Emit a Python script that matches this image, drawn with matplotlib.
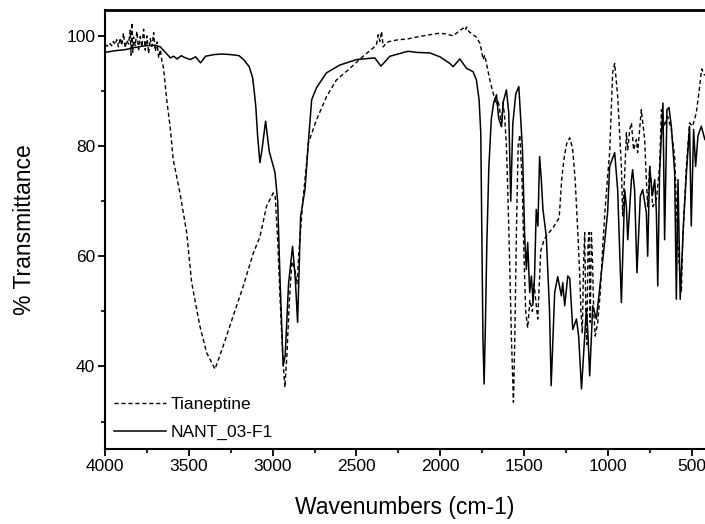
import matplotlib
matplotlib.use("Agg")
import matplotlib.pyplot as plt
from matplotlib.ticker import MultipleLocator

plt.rcParams['font.family'] = ['Liberation Sans', 'DejaVu Sans']

# ---------------- data ----------------
tian_wn = [4000, 3990, 3980, 3970, 3960, 3950, 3940, 3930, 3920, 3910, 3900, 3890, 3880,
           3870, 3860, 3850, 3845, 3840, 3835, 3830, 3820, 3810, 3800, 3790, 3780, 3770,
           3760, 3750, 3740, 3730, 3720, 3710, 3700, 3690, 3680, 3670, 3660,
           3652, 3632, 3612, 3593, 3553, 3513, 3483, 3434, 3394, 3344, 3295, 3235, 3175,
           3116, 3076, 3036, 2996, 2985, 2970, 2955, 2940, 2927, 2915, 2900, 2885, 2870,
           2855, 2840, 2820, 2800, 2787, 2738, 2678, 2619, 2539, 2460, 2400, 2380, 2370,
           2360, 2350, 2340, 2320, 2300, 2250, 2201, 2122, 2060, 2002, 1960, 1923, 1890,
           1863, 1850, 1843, 1830, 1804, 1785, 1764, 1755, 1744, 1735, 1724, 1704, 1684,
           1665, 1655, 1645, 1635, 1625, 1615, 1605, 1595, 1585, 1575, 1563, 1555, 1545,
           1535, 1525, 1512, 1500, 1490, 1478, 1465, 1450, 1440, 1430, 1418, 1400, 1380,
           1360, 1330, 1310, 1290, 1275, 1260, 1245, 1227, 1210, 1195, 1180, 1168, 1160,
           1152, 1145, 1138, 1131, 1125, 1118, 1112, 1105, 1098, 1092, 1084, 1075, 1060,
           1045, 1030, 1015, 1001, 989, 971, 959, 941, 919, 911, 899, 889, 881, 869, 859,
           846, 829, 822, 800, 780, 770, 762, 750, 740, 732, 710, 691, 680, 661, 643, 621,
           601, 583, 571, 561, 553, 531, 512, 494, 472, 452, 440, 422]
tian_t = [98.0, 98.3, 98.1, 98.6, 98.2, 99.0, 98.4, 99.3, 98.0, 99.6, 98.3, 100.5, 97.8,
          99.2, 98.5, 101.0, 96.5, 102.4, 97.0, 99.8, 98.2, 100.8, 97.5, 99.9, 98.0, 101.2,
          97.4, 100.0, 96.8, 99.5, 98.1, 100.6, 97.2, 98.9, 96.0, 97.5, 95.3,
          94.4, 88.4, 83.6, 77.5, 71.5, 64.3, 55.2, 47.3, 42.5, 39.5, 43.7, 49.2, 54.6,
          60.5, 63.5, 69.1, 71.5, 71.0, 63.0, 52.0, 42.0, 36.2, 42.0, 52.0, 59.0, 58.0,
          55.0, 62.0, 70.0, 76.0, 80.5, 84.8, 89.0, 92.0, 94.1, 96.3, 97.8, 98.5, 100.2,
          99.0, 100.8, 98.0, 98.8, 99.0, 99.3, 99.4, 99.9, 100.2, 100.5, 100.3, 100.0, 100.8,
          101.4, 101.0, 101.6, 100.8, 100.2, 99.8, 98.7, 97.5, 95.7, 96.5, 95.0, 92.0, 89.6,
          87.5, 88.4, 86.5, 83.6, 88.0, 85.0, 80.0, 70.0, 58.0, 45.0, 33.5, 45.0, 65.0,
          80.0, 82.0, 74.0, 60.0, 50.0, 47.0, 52.0, 50.0, 55.0, 52.0, 48.6, 61.0, 63.0,
          64.0, 65.0, 66.0, 67.0, 74.0, 78.0, 80.5, 81.5, 79.5, 74.0, 65.0, 57.0, 50.0,
          46.0, 58.0, 64.3, 50.0, 44.0, 62.0, 64.3, 48.0, 64.3, 60.0, 50.0, 45.5, 48.0,
          53.4, 62.0, 69.0, 74.5, 78.8, 93.3, 95.0, 89.0, 76.3, 67.3, 75.1, 82.4, 79.3, 83.0, 84.2,
          79.3, 81.2, 78.8, 86.6, 81.2, 73.9, 69.0, 76.3, 72.7, 69.0, 70.3, 76.3, 86.6, 83.6, 85.4, 83.0,
          78.1, 63.0, 57.0, 53.4, 63.0, 76.3, 84.2, 83.6, 86.0, 90.8, 94.0, 92.8]

nant_wn = [4000, 3940, 3880, 3820, 3760, 3700, 3670, 3640, 3610, 3590, 3570, 3545, 3520,
           3490, 3460, 3430, 3400, 3350, 3300, 3250, 3200, 3170, 3140, 3120, 3110, 3100,
           3090, 3076, 3065, 3042, 3020, 2986, 2970, 2955, 2937, 2925, 2905, 2881, 2865,
           2851, 2833, 2807, 2787, 2767, 2738, 2678, 2599, 2499, 2390, 2354, 2300, 2193,
           2142, 2062, 2002, 1943, 1923, 1883, 1843, 1804, 1784, 1768, 1758, 1752, 1745,
           1738, 1730, 1722, 1710, 1695, 1680, 1664, 1651, 1634, 1624, 1605, 1591, 1579,
           1567, 1549, 1531, 1509, 1496, 1486, 1478, 1466, 1456, 1446, 1437, 1427, 1417,
           1407, 1397, 1387, 1367, 1348, 1338, 1317, 1299, 1277, 1269, 1257, 1239, 1227,
           1209, 1187, 1174, 1157, 1138, 1128, 1120, 1108, 1090, 1068, 1038, 1019, 1001,
           989, 959, 941, 919, 899, 889, 881, 859, 852, 840, 826, 806, 792, 770, 762, 750,
           734, 720, 710, 702, 691, 671, 661, 647, 635, 621, 601, 591, 581, 568, 548, 531,
           512, 502, 488, 476, 462, 442, 421]
nant_t = [97.0, 97.3, 97.5, 97.9, 98.2, 98.3, 98.0, 97.0, 96.0, 96.3, 95.8, 96.4, 96.0,
          95.7, 96.2, 95.1, 96.3, 96.6, 96.7, 96.6, 96.4, 95.6, 94.4, 92.5, 90.0, 87.0,
          82.0, 77.0, 79.0, 84.5, 79.0, 75.2, 70.0, 55.0, 40.1, 42.0, 55.0, 61.8, 56.0,
          48.0, 67.2, 72.1, 80.6, 88.4, 90.6, 93.3, 94.7, 95.7, 96.0, 94.5, 96.3, 97.2,
          97.0, 96.9, 96.2, 95.0, 94.4, 95.8, 94.1, 93.5, 92.0, 88.4, 82.4, 65.0, 45.0,
          36.8, 48.0, 62.0, 76.0, 85.0, 88.0, 89.3, 85.0, 83.5, 88.0, 90.2, 86.0, 70.0,
          84.0, 89.5, 90.8, 79.3, 63.6, 57.6, 62.5, 53.4, 56.4, 51.6, 56.4, 68.5, 65.5,
          78.1, 74.0, 68.5, 63.6, 50.4, 36.5, 53.4, 56.3, 52.8, 55.2, 51.0, 56.4, 56.0,
          46.7, 48.6, 45.5, 35.9, 45.5, 50.4, 46.7, 38.3, 51.0, 48.6, 57.0, 62.5, 68.0,
          76.3, 78.8, 72.0, 51.6, 72.0, 69.0, 63.0, 73.9, 75.7, 72.0, 57.0, 70.9, 72.1, 67.9, 60.0, 76.3,
          71.0, 73.9, 67.9, 54.6, 75.1, 87.8, 63.0, 86.6, 87.0, 83.6, 75.1, 52.2, 73.9, 52.2, 66.1, 75.1,
          83.6, 65.5, 83.0, 76.3, 81.8, 83.6, 81.2]

series_labels = ["Tianeptine", "NANT_03-F1"]
x_ticks = [4000, 3500, 3000, 2500, 2000, 1500, 1000, 500]
y_ticks = [40, 60, 80, 100]

# ---------------- figure ----------------
fig = plt.figure(figsize=(7.05, 5.24), dpi=100)
ax = fig.add_axes([0.149, 0.143, 0.851, 0.838])

ax.plot(tian_wn, tian_t, color='black', lw=1.0, linestyle=(0, (3, 2)), label=series_labels[0])
ax.plot(nant_wn, nant_t, color='black', lw=1.1, linestyle='-', label=series_labels[1])

ax.set_xlim(4000, 420)
ax.set_ylim(25, 104.7)
ax.set_xticks(x_ticks)
ax.set_yticks(y_ticks)
ax.xaxis.set_minor_locator(MultipleLocator(250))
ax.yaxis.set_minor_locator(MultipleLocator(10))

ax.tick_params(axis='both', which='major', direction='out', length=5, width=1.3,
               labelsize=12.5, pad=2)
ax.tick_params(axis='both', which='minor', direction='out', length=3, width=1.2)

for side in ['left', 'bottom']:
    ax.spines[side].set_linewidth(1.5)
ax.spines['top'].set_linewidth(2.0)
ax.spines['right'].set_visible(False)

ax.set_xlabel("Wavenumbers (cm-1)", fontsize=16.5, labelpad=16)
ax.set_ylabel("% Transmittance", fontsize=16.5, labelpad=22)

leg = ax.legend(loc='lower left', bbox_to_anchor=(0.0, 0.0), frameon=False,
                fontsize=12.5, handlelength=3.0, handletextpad=0.3,
                labelspacing=0.75, borderpad=0.4, borderaxespad=0.1)

fig.savefig("out.png", dpi=100)
